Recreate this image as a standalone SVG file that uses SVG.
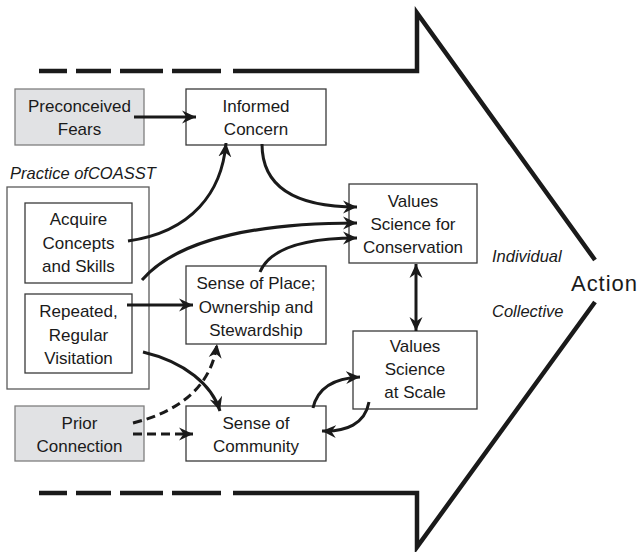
<svg xmlns="http://www.w3.org/2000/svg" width="638" height="552" viewBox="0 0 638 552">
<defs>
<marker id="ah" markerUnits="userSpaceOnUse" markerWidth="15" markerHeight="14" refX="14" refY="7" orient="auto-start-reverse">
<path d="M0,0.5 L14,7 L0,13.5 L4.5,7 z" fill="#1a1a1a"/>
</marker>
<style>
.box{fill:#ffffff;stroke:#3a3a3a;stroke-width:1.3}
.gbox{fill:#e1e2e4;stroke:#7f7f7f;stroke-width:1.3}
.outer{fill:none;stroke:#5a5a5a;stroke-width:1.3}
.t{font-family:"Liberation Sans",Arial,sans-serif;font-size:17px;fill:#1a1a1a;text-anchor:middle}
.it{font-family:"Liberation Sans",Arial,sans-serif;font-size:16.5px;font-style:italic;fill:#1a1a1a}
.big{fill:none;stroke:#1a1a1a;stroke-width:4.5;stroke-linejoin:miter}
.c{fill:none;stroke:#1a1a1a;stroke-width:3;marker-end:url(#ah)}
.d{stroke-dasharray:9,5}
</style>
</defs>
<g id="big-arrow">
<path class="big" d="M233,71 L417,71 L417,13 L595,260"/>
<path class="big" d="M595,302 L417,547 L417,493 L233,493"/>
<path class="big" d="M39,71 H67 M76,71 H111 M120,71 H163 M172,71 H221"/>
<path class="big" d="M39,493 H67 M76,493 H111 M120,493 H163 M172,493 H221"/>
<text x="571" y="291" font-family="Liberation Sans,Arial,sans-serif" font-size="22" fill="#1a1a1a" textLength="66">Action</text>
<text class="it" x="492" y="262">Individual</text>
<text class="it" x="492" y="317">Collective</text>
</g>
<g id="practice">
<rect class="outer" x="7" y="187" width="142" height="202"/>
<text class="it" x="10" y="179" font-size="17">Practice ofCOASST</text>
</g>
<g id="preconceived">
<rect class="gbox" x="15" y="89" width="129" height="56"/>
<text class="t" x="79.5" y="112">Preconceived</text>
<text class="t" x="79.5" y="135">Fears</text>
</g>
<g id="informed">
<rect class="box" x="186" y="89" width="140" height="56"/>
<text class="t" x="256" y="112">Informed</text>
<text class="t" x="256" y="135">Concern</text>
</g>
<g id="acquire">
<rect class="box" x="25" y="203" width="107" height="80"/>
<text class="t" x="78.5" y="225">Acquire</text>
<text class="t" x="78.5" y="249">Concepts</text>
<text class="t" x="78.5" y="272">and Skills</text>
</g>
<g id="repeated">
<rect class="box" x="25" y="294" width="107" height="79"/>
<text class="t" x="78.5" y="317">Repeated,</text>
<text class="t" x="78.5" y="341">Regular</text>
<text class="t" x="78.5" y="364">Visitation</text>
</g>
<g id="place">
<rect class="box" x="186" y="266" width="140" height="78"/>
<text class="t" x="256" y="289">Sense of Place;</text>
<text class="t" x="256" y="313">Ownership and</text>
<text class="t" x="256" y="336">Stewardship</text>
</g>
<g id="conservation">
<rect class="box" x="349" y="184" width="128" height="79"/>
<text class="t" x="413" y="207">Values</text>
<text class="t" x="413" y="230">Science for</text>
<text class="t" x="413" y="253">Conservation</text>
</g>
<g id="scale">
<rect class="box" x="353" y="331" width="124" height="78"/>
<text class="t" x="415" y="352">Values</text>
<text class="t" x="415" y="375">Science</text>
<text class="t" x="415" y="398">at Scale</text>
</g>
<g id="prior">
<rect class="gbox" x="15" y="406" width="129" height="55"/>
<text class="t" x="79.5" y="429">Prior</text>
<text class="t" x="79.5" y="452">Connection</text>
</g>
<g id="community">
<rect class="box" x="186" y="406" width="140" height="55"/>
<text class="t" x="256" y="429">Sense of</text>
<text class="t" x="256" y="452">Community</text>
</g>
<g id="connectors">
<path class="c" d="M134,117 L196,117"/>
<path class="c" d="M128,241 C192,232 222,192 226,143"/>
<path class="c" d="M262,144 C262,190 300,207 357,207"/>
<path class="c" d="M142,280 C180,236 268,223 357,223"/>
<path class="c" d="M260,272 C270,248 305,238 357,238"/>
<path class="c" d="M127,305 L193,305"/>
<path class="c" d="M143,352 C185,362 212,385 220,411"/>
<path class="c d" d="M133,423 C185,410 212,382 217,344"/>
<path class="c d" d="M133,434 L193,434"/>
<path class="c" style="marker-start:url(#ah)" d="M416,264 L416,331"/>
<path class="c" d="M313,408 C318,386 336,378 360,377"/>
<path class="c" d="M369,402 C365,424 346,432 322,431"/>
</g>
</svg>
